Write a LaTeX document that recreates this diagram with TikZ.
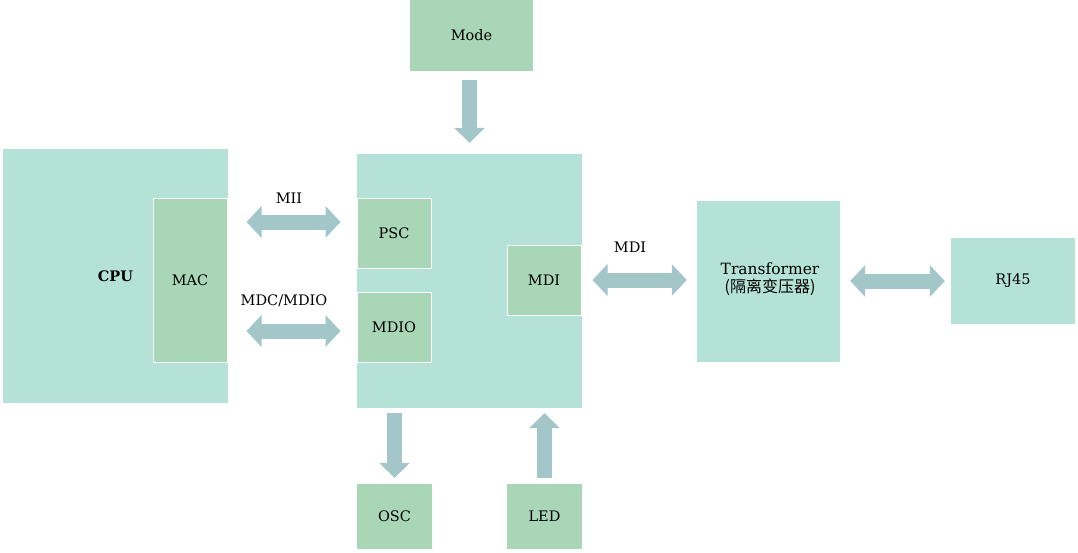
\documentclass[tikz,border=0pt]{standalone}
\usepackage{fontspec}
\setmainfont{DejaVu Serif}
\newfontfamily\cjk{Noto Sans CJK SC}
\usetikzlibrary{arrows.meta}
\definecolor{teal1}{HTML}{B4E2D6}
\definecolor{green1}{HTML}{A9D6B6}
\definecolor{arrowc}{HTML}{A3C6C8}
\tikzset{
  tbox/.style={fill=teal1, inner sep=0pt, font=\fontsize{14.5}{16}\selectfont, align=center},
  gbox/.style={fill=green1, inner sep=0pt, font=\fontsize{14.5}{16}\selectfont, align=center},
  wbox/.style={gbox, draw=white, line width=1pt},
  barrow/.style={draw=arrowc, line width=15pt, {Triangle[length=15pt,width=31pt]}-{Triangle[length=15pt,width=31pt]}},
  sarrow/.style={draw=arrowc, line width=15pt, -{Triangle[length=15pt,width=30pt]}},
  lbl/.style={inner sep=0pt, font=\fontsize{14.5}{16}\selectfont}
}
\begin{document}
\begin{tikzpicture}[x=1pt,y=-1pt]
\useasboundingbox (0,0) rectangle (1078,552);
% CPU
\node[tbox, minimum width=225pt, minimum height=254pt] (cpu) at (115.5,276) {\textbf{CPU}};
\node[wbox, minimum width=74pt, minimum height=164pt] (mac) at (190,280) {MAC};
% PHY
\node[tbox, minimum width=225pt, minimum height=254pt] (phy) at (469.5,281) {};
\node[wbox, minimum width=74pt, minimum height=70pt] (psc) at (394,233) {PSC};
\node[wbox, minimum width=74pt, minimum height=70pt] (mdio) at (394,327) {MDIO};
\node[wbox, minimum width=74pt, minimum height=70pt] (mdi) at (544,280) {MDI};
% others
\node[tbox, minimum width=143pt, minimum height=161pt] (trans) at (768.5,281.5) {};
\node[inner sep=0pt, align=center, font=\fontsize{15.5}{17.5}\selectfont] (transl) at (770,279) {Transformer\\{\cjk\fontsize{16}{17.5}\selectfont(隔离变压器)}};
\node[gbox, minimum width=123pt, minimum height=71pt] (mode) at (471.5,35.5) {Mode};
\node[tbox, minimum width=124pt, minimum height=86pt] (rj) at (1013,281) {RJ45};
\node[gbox, minimum width=75pt, minimum height=65pt] (osc) at (394.5,516.5) {OSC};
\node[gbox, minimum width=75pt, minimum height=65pt] (led) at (544.5,516.5) {LED};
% labels
\node[lbl] (miil) at (289,198) {MII};
\node[lbl] (mdcl) at (284,301) {MDC/MDIO};
\node[lbl] (mdil) at (630,247) {MDI};
% arrows
\draw[barrow, shorten <=19pt, shorten >=16pt] ([yshift=11pt]mac.east |- psc.west) -- ([yshift=11pt]psc.west);
\draw[barrow, shorten <=19pt, shorten >=16pt] ([yshift=-4pt]mac.east |- mdio.west) -- ([yshift=-4pt]mdio.west);
\draw[barrow, shorten <=11pt, shorten >=10pt] (mdi.east) -- (trans.west |- mdi.east);
\draw[barrow, shorten <=10pt, shorten >=6pt] (trans.east |- rj.west) -- (rj.west);
\draw[sarrow, shorten <=9pt, shorten >=11pt] (phy.north |- mode.south) -- (phy.north);
\draw[sarrow, shorten <=5pt, shorten >=6pt] (osc.north |- phy.south) -- (osc.north);
\draw[sarrow, shorten <=6pt, shorten >=5pt] (led.north) -- (led.north |- phy.south);
\end{tikzpicture}
\end{document}
